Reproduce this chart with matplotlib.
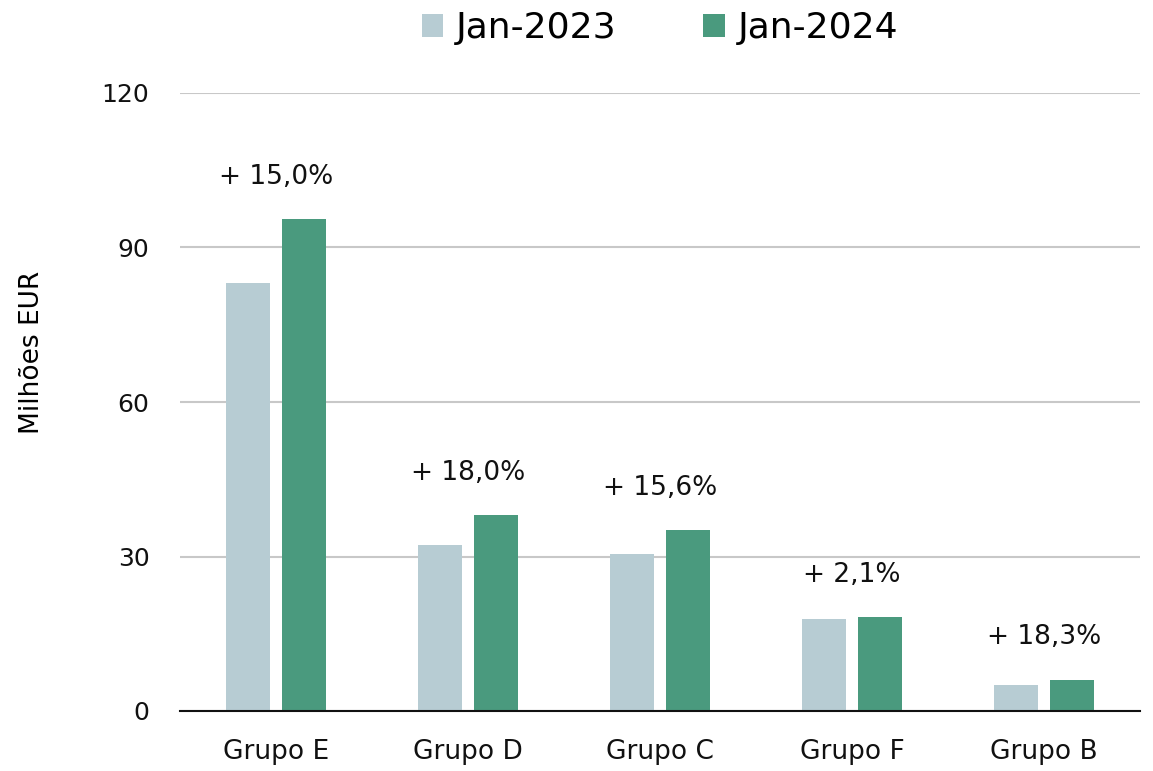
import numpy as np
import matplotlib
matplotlib.use("Agg")
import matplotlib.pyplot as plt

plt.rcParams['font.family'] = ['DejaVu Sans']

grupos = ["Grupo E", "Grupo D", "Grupo C", "Grupo F", "Grupo B"]
jan_2023 = [83.1, 32.2, 30.4, 17.9, 5.1]
jan_2024 = [95.5, 38.0, 35.1, 18.3, 6.1]
variacao = ["+ 15,0%", "+ 18,0%", "+ 15,6%", "+ 2,1%", "+ 18,3%"]

c_2023 = "#b7ccd3"
c_2024 = "#4a9a7e"

fig = plt.figure(figsize=(11.53, 7.71), dpi=100)
ax = fig.add_axes([180 / 1153, 60 / 771, 960 / 1153, 618 / 771])

x = np.arange(len(grupos))
w = 0.23
off = 0.146
ax.bar(x - off, jan_2023, width=w, color=c_2023, label="Jan-2023", zorder=3)
ax.bar(x + off, jan_2024, width=w, color=c_2024, label="Jan-2024", zorder=3)

for i, txt in enumerate(variacao):
    top = max(jan_2023[i], jan_2024[i])
    ax.annotate(txt, (x[i], top), xytext=(0, 21), textcoords="offset points",
                ha="center", va="bottom", fontsize=19, color="#111111")

ax.set_xlim(-0.5, len(grupos) - 0.5)
ax.set_ylim(0, 120)
ax.set_yticks([0, 30, 60, 90, 120])
ax.set_xticks(x)
ax.set_xticklabels(grupos, fontsize=19)
ax.tick_params(axis="both", length=0, colors="#111111")
ax.tick_params(axis="y", pad=22, labelsize=18)
ax.tick_params(axis="x", pad=20)
ax.yaxis.grid(True, color="#c8c8c8", lw=1.5, zorder=0)
for s in ["left", "right", "top"]:
    ax.spines[s].set_visible(False)
ax.spines["bottom"].set_color("#111111")
ax.spines["bottom"].set_linewidth(1.5)
ax.spines["bottom"].set_zorder(4)
ax.set_ylabel("Milhões EUR", fontsize=19)
ax.yaxis.set_label_coords(-0.141, 0.581)

ax.legend(loc="center", bbox_to_anchor=(0.5, 1.105), ncol=2, frameon=False,
          fontsize=26, handlelength=0.6, handleheight=0.6, handletextpad=0.35,
          columnspacing=2.4)

fig.savefig("out.png", dpi=100)
